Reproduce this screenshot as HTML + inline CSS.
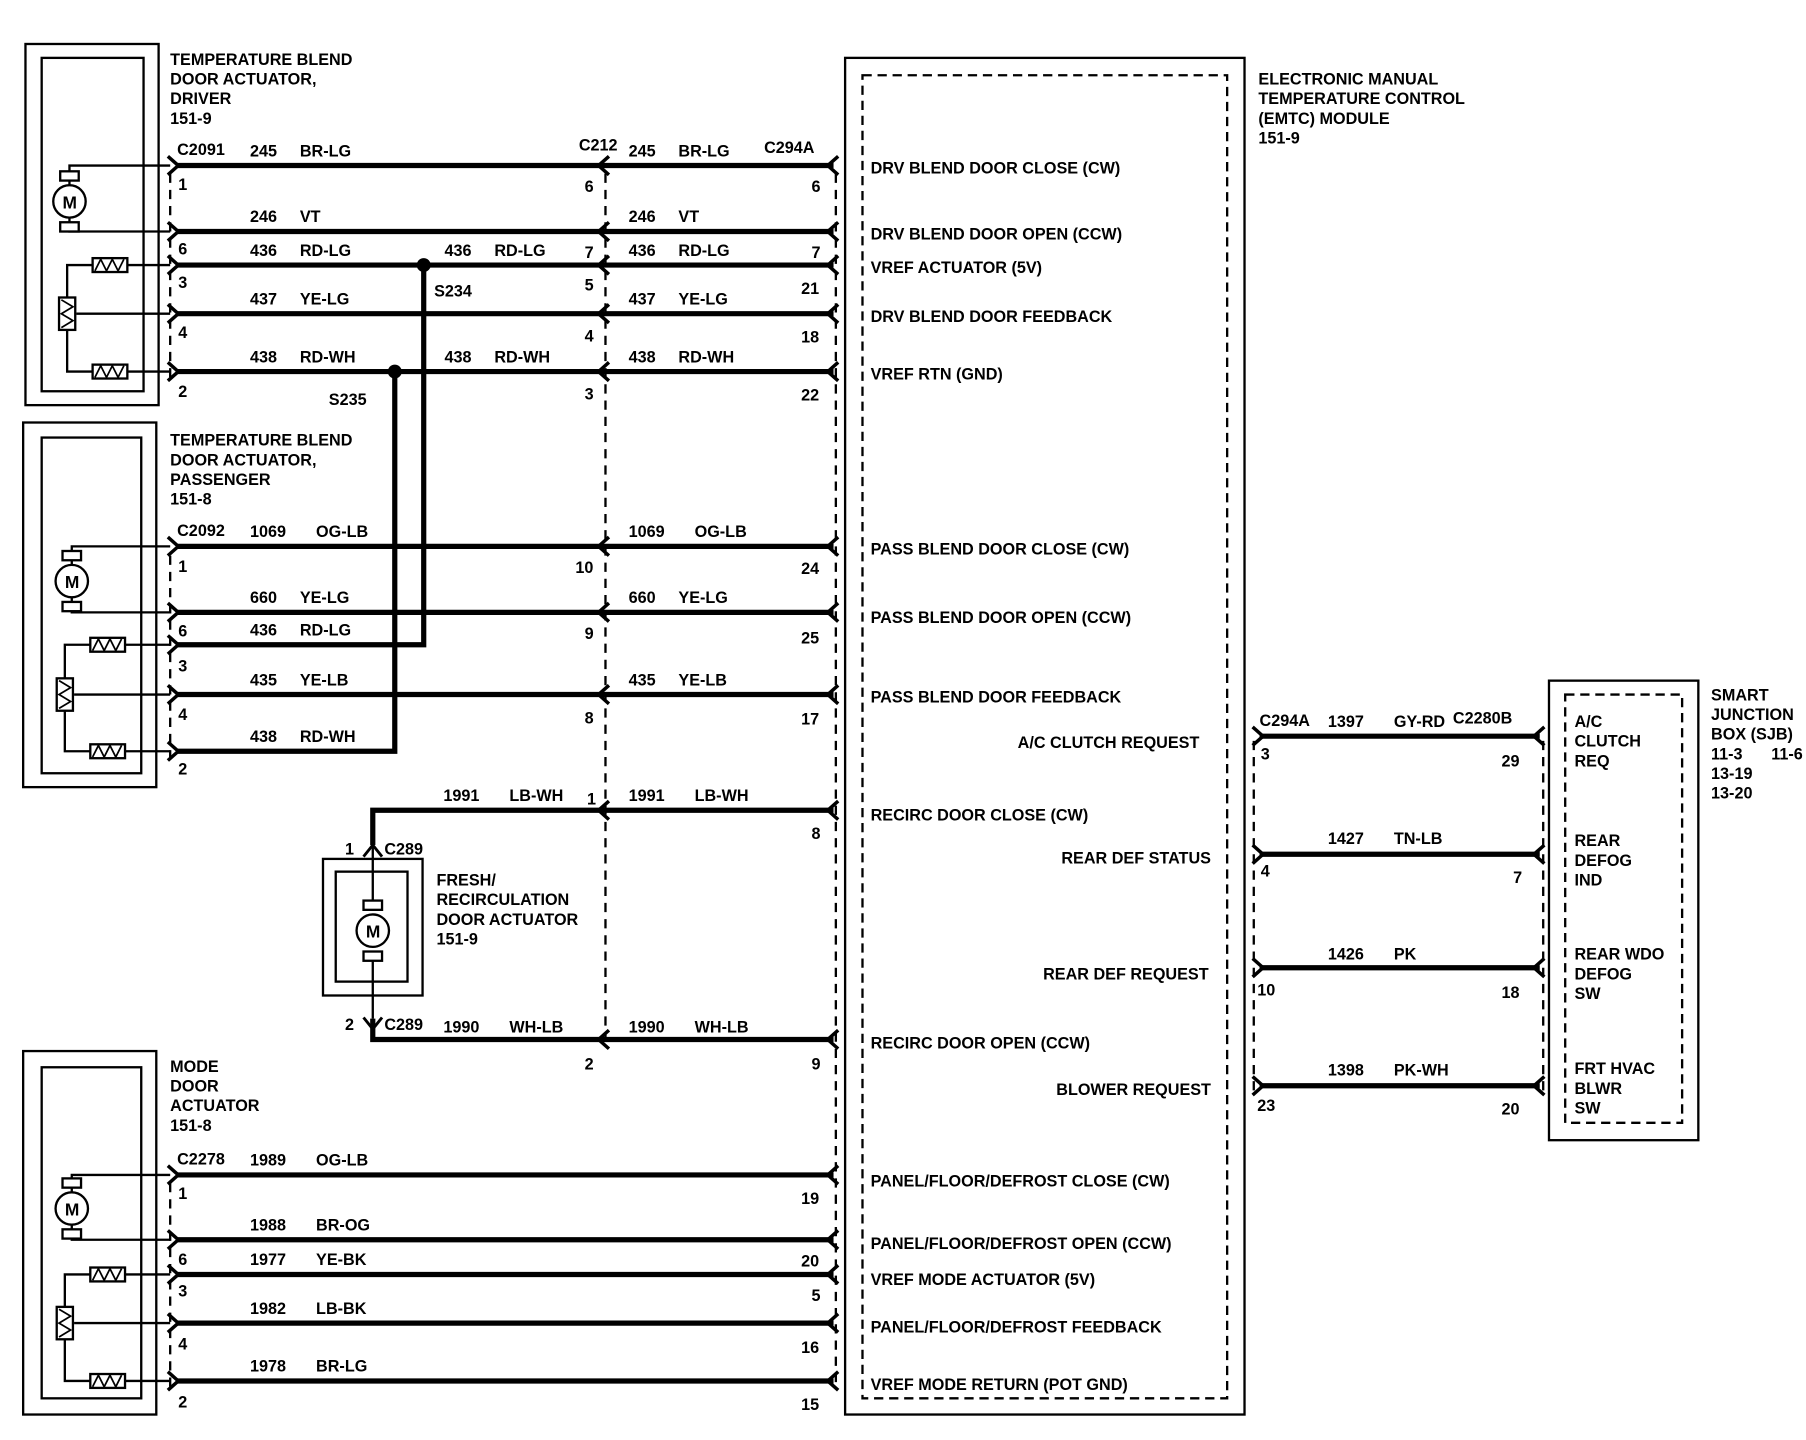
<!DOCTYPE html>
<html><head><meta charset="utf-8"><style>
html,body{margin:0;padding:0;background:#fff}
svg{display:block}
text{font-family:"Liberation Sans Narrow","Liberation Sans",sans-serif;font-size:14px;font-weight:bold;fill:#000}
</style></head><body>
<svg width="1806" height="1440" viewBox="0 0 1560 1244" preserveAspectRatio="none" xmlns="http://www.w3.org/2000/svg">
<defs>
<path id="R" d="M-8,-8 L1,0 L-8,8" fill="none" stroke="#000" stroke-width="3"/>
<path id="L" d="M8,-8 L-1,0 L8,8" fill="none" stroke="#000" stroke-width="3"/>
<g id="mot"><rect x="-8" y="-26" width="16" height="8" fill="#fff" stroke="#000" stroke-width="2"/><rect x="-8" y="18" width="16" height="8" fill="#fff" stroke="#000" stroke-width="2"/><circle r="14" fill="#fff" stroke="#000" stroke-width="2"/><text x="-6" y="6" style="font-size:15px">M</text></g>
<g id="res"><rect x="-15" y="-6" width="30" height="12" fill="#fff" stroke="#000" stroke-width="2"/><path d="M-13,5 L-8,-5 L-3,5 L2,-5 L7,5 L12,-5" fill="none" stroke="#000" stroke-width="1.5"/></g>
<g id="pot"><rect x="-7" y="-14" width="14" height="28" fill="#fff" stroke="#000" stroke-width="2"/><path d="M-5,-12 L5,-6 L-5,0 L5,6 L-5,12" fill="none" stroke="#000" stroke-width="1.5"/></g>
</defs>
<g fill="none" stroke="#000">
<rect x="22" y="38" width="115" height="312" stroke-width="2"/>
<rect x="36" y="50" width="88" height="288" stroke-width="2"/>
<rect x="20" y="365" width="115" height="315" stroke-width="2"/>
<rect x="36" y="378" width="86" height="290" stroke-width="2"/>
<rect x="20" y="908" width="115" height="314" stroke-width="2"/>
<rect x="36" y="922" width="86" height="286" stroke-width="2"/>
<rect x="279" y="742" width="86" height="118" stroke-width="2"/>
<rect x="290" y="753" width="62" height="95" stroke-width="2"/>
<rect x="730" y="50" width="345" height="1172" stroke-width="2"/>
<rect x="745" y="65" width="315" height="1143" stroke-width="2" stroke-dasharray="8,5"/>
<rect x="1338" y="588" width="129" height="397" stroke-width="2"/>
<rect x="1352" y="600" width="101" height="370" stroke-width="2" stroke-dasharray="8,5"/>
<g stroke-width="2" stroke-dasharray="8,6">
<line x1="147" y1="150" x2="147" y2="330"/><line x1="147" y1="480" x2="147" y2="660"/><line x1="147" y1="1022" x2="147" y2="1200"/>
<line x1="523" y1="150" x2="523" y2="900"/>
<line x1="722" y1="150" x2="722" y2="1200"/>
<line x1="1083" y1="640" x2="1083" y2="945"/>
<line x1="1333" y1="640" x2="1333" y2="945"/>
</g>
<g stroke-width="2">
<path d="M60,160 V143 H147 M60,188 V200 H147"/>
<path d="M58,270 V229 H80 M110,229 H147 M66,271 H147 M58,284 V321 H80 M110,321 H147"/>
<path d="M62,488 V472 H147 M62,516 V529 H147"/>
<path d="M56,598 V557 H78 M108,557 H147 M64,600 H147 M56,612 V649 H78 M108,649 H147"/>
<path d="M62,1030 V1015 H147 M62,1058 V1071 H147"/>
<path d="M56,1142 V1101 H78 M108,1101 H147 M64,1143 H147 M56,1156 V1193 H78 M108,1193 H147"/>
</g>
<g stroke-width="4.5">
<path d="M152,143 H720 M152,200 H720 M152,229 H720 M152,271 H720 M152,321 H720"/>
<path d="M152,472 H720 M152,529 H720 M152,557 H366 V229 M152,600 H720 M152,649 H341 V321"/>
<path d="M322,730 V700 H720 M322,880 V898 H720"/>
<path d="M152,1015 H720 M152,1071 H720 M152,1101 H720 M152,1143 H720 M152,1193 H720"/>
<path d="M1088,636 H1330 M1088,738 H1330 M1088,836 H1330 M1088,938 H1330"/>
</g>
<g stroke-width="2"><path d="M322,731 V780 M322,828 V880"/></g>
</g>
<circle cx="366" cy="229" r="6"/><circle cx="341" cy="321" r="6"/>
<use href="#mot" x="60" y="174"/><use href="#res" x="95" y="229"/><use href="#pot" x="58" y="271"/><use href="#res" x="95" y="321"/>
<use href="#mot" x="62" y="502"/><use href="#res" x="93" y="557"/><use href="#pot" x="56" y="600"/><use href="#res" x="93" y="649"/>
<use href="#mot" x="62" y="1044"/><use href="#res" x="93" y="1101"/><use href="#pot" x="56" y="1143"/><use href="#res" x="93" y="1193"/>
<use href="#mot" x="322" y="804"/>
<g>
<use href="#R" x="153" y="143"/><use href="#R" x="153" y="200"/><use href="#R" x="153" y="229"/><use href="#R" x="153" y="271"/><use href="#R" x="153" y="321"/>
<use href="#R" x="153" y="472"/><use href="#R" x="153" y="529"/><use href="#R" x="153" y="557"/><use href="#R" x="153" y="600"/><use href="#R" x="153" y="649"/>
<use href="#R" x="153" y="1015"/><use href="#R" x="153" y="1071"/><use href="#R" x="153" y="1101"/><use href="#R" x="153" y="1143"/><use href="#R" x="153" y="1193"/>
<use href="#L" x="518" y="143"/><use href="#L" x="518" y="200"/><use href="#L" x="518" y="229"/><use href="#L" x="518" y="271"/><use href="#L" x="518" y="321"/>
<use href="#L" x="518" y="472"/><use href="#L" x="518" y="529"/><use href="#L" x="518" y="600"/><use href="#L" x="518" y="700"/><use href="#L" x="518" y="898"/>
<use href="#L" x="716" y="143"/><use href="#L" x="716" y="200"/><use href="#L" x="716" y="229"/><use href="#L" x="716" y="271"/><use href="#L" x="716" y="321"/>
<use href="#L" x="716" y="472"/><use href="#L" x="716" y="529"/><use href="#L" x="716" y="600"/><use href="#L" x="716" y="700"/><use href="#L" x="716" y="898"/>
<use href="#L" x="716" y="1015"/><use href="#L" x="716" y="1071"/><use href="#L" x="716" y="1101"/><use href="#L" x="716" y="1143"/><use href="#L" x="716" y="1193"/>
<use href="#R" x="1090" y="636"/><use href="#R" x="1090" y="738"/><use href="#R" x="1090" y="836"/><use href="#R" x="1090" y="938"/>
<use href="#L" x="1326" y="636"/><use href="#L" x="1326" y="738"/><use href="#L" x="1326" y="836"/><use href="#L" x="1326" y="938"/>
<path d="M314,740 L322,730 L330,740 M314,879 L322,889 L330,879" fill="none" stroke="#000" stroke-width="2.5"/>
</g>
<text x="147" y="56">TEMPERATURE BLEND</text><text x="147" y="73">DOOR ACTUATOR,</text><text x="147" y="90">DRIVER</text><text x="147" y="107">151-9</text>
<text x="147" y="385">TEMPERATURE BLEND</text><text x="147" y="402">DOOR ACTUATOR,</text><text x="147" y="419">PASSENGER</text><text x="147" y="436">151-8</text>
<text x="147" y="926">MODE</text><text x="147" y="943">DOOR</text><text x="147" y="960">ACTUATOR</text><text x="147" y="977">151-8</text>
<text x="377" y="765">FRESH/</text><text x="377" y="782">RECIRCULATION</text><text x="377" y="799">DOOR ACTUATOR</text><text x="377" y="816">151-9</text>
<text x="1087" y="73">ELECTRONIC MANUAL</text><text x="1087" y="90">TEMPERATURE CONTROL</text><text x="1087" y="107">(EMTC) MODULE</text><text x="1087" y="124">151-9</text>
<text x="1478" y="605">SMART</text><text x="1478" y="622">JUNCTION</text><text x="1478" y="639">BOX (SJB)</text><text x="1478" y="656">11-3</text><text x="1530" y="656">11-6</text><text x="1478" y="673">13-19</text><text x="1478" y="690">13-20</text>
<text x="153" y="134">C2091</text><text x="500" y="130">C212</text><text x="660" y="132">C294A</text>
<text x="153" y="463">C2092</text><text x="153" y="1006">C2278</text>
<text x="332" y="738">C289</text><text x="332" y="890">C289</text><text x="298" y="738">1</text><text x="298" y="890">2</text>
<text x="375" y="256">S234</text><text x="284" y="350">S235</text>
<text x="1088" y="627">C294A</text><text x="1255" y="625">C2280B</text>
<g>
<text x="216" y="135">245</text><text x="259" y="135">BR-LG</text><text x="543" y="135">245</text><text x="586" y="135">BR-LG</text>
<text x="216" y="192">246</text><text x="259" y="192">VT</text><text x="543" y="192">246</text><text x="586" y="192">VT</text>
<text x="216" y="221">436</text><text x="259" y="221">RD-LG</text><text x="384" y="221">436</text><text x="427" y="221">RD-LG</text><text x="543" y="221">436</text><text x="586" y="221">RD-LG</text>
<text x="216" y="263">437</text><text x="259" y="263">YE-LG</text><text x="543" y="263">437</text><text x="586" y="263">YE-LG</text>
<text x="216" y="313">438</text><text x="259" y="313">RD-WH</text><text x="384" y="313">438</text><text x="427" y="313">RD-WH</text><text x="543" y="313">438</text><text x="586" y="313">RD-WH</text>
<text x="216" y="464">1069</text><text x="273" y="464">OG-LB</text><text x="543" y="464">1069</text><text x="600" y="464">OG-LB</text>
<text x="216" y="521">660</text><text x="259" y="521">YE-LG</text><text x="543" y="521">660</text><text x="586" y="521">YE-LG</text>
<text x="216" y="549">436</text><text x="259" y="549">RD-LG</text>
<text x="216" y="592">435</text><text x="259" y="592">YE-LB</text><text x="543" y="592">435</text><text x="586" y="592">YE-LB</text>
<text x="216" y="641">438</text><text x="259" y="641">RD-WH</text>
<text x="383" y="692">1991</text><text x="440" y="692">LB-WH</text><text x="543" y="692">1991</text><text x="600" y="692">LB-WH</text>
<text x="383" y="892">1990</text><text x="440" y="892">WH-LB</text><text x="543" y="892">1990</text><text x="600" y="892">WH-LB</text>
<text x="216" y="1007">1989</text><text x="273" y="1007">OG-LB</text>
<text x="216" y="1063">1988</text><text x="273" y="1063">BR-OG</text>
<text x="216" y="1093">1977</text><text x="273" y="1093">YE-BK</text>
<text x="216" y="1135">1982</text><text x="273" y="1135">LB-BK</text>
<text x="216" y="1185">1978</text><text x="273" y="1185">BR-LG</text>
<text x="1147" y="628">1397</text><text x="1204" y="628">GY-RD</text>
<text x="1147" y="729">1427</text><text x="1204" y="729">TN-LB</text>
<text x="1147" y="829">1426</text><text x="1204" y="829">PK</text>
<text x="1147" y="929">1398</text><text x="1204" y="929">PK-WH</text>
</g>
<g>
<text x="154" y="164">1</text><text x="154" y="220">6</text><text x="154" y="249">3</text><text x="154" y="292">4</text><text x="154" y="343">2</text>
<text x="154" y="494">1</text><text x="154" y="550">6</text><text x="154" y="580">3</text><text x="154" y="622">4</text><text x="154" y="669">2</text>
<text x="154" y="1036">1</text><text x="154" y="1093">6</text><text x="154" y="1120">3</text><text x="154" y="1166">4</text><text x="154" y="1216">2</text>
<text x="505" y="166">6</text><text x="505" y="223">7</text><text x="505" y="251">5</text><text x="505" y="295">4</text><text x="505" y="345">3</text>
<text x="497" y="495">10</text><text x="505" y="552">9</text><text x="505" y="625">8</text><text x="507" y="695">1</text><text x="505" y="924">2</text>
<text x="701" y="166">6</text><text x="701" y="223">7</text><text x="692" y="254">21</text><text x="692" y="296">18</text><text x="692" y="346">22</text>
<text x="692" y="496">24</text><text x="692" y="556">25</text><text x="692" y="626">17</text><text x="701" y="725">8</text><text x="701" y="924">9</text>
<text x="692" y="1040">19</text><text x="692" y="1094">20</text><text x="701" y="1124">5</text><text x="692" y="1169">16</text><text x="692" y="1218">15</text>
<text x="1089" y="656">3</text><text x="1089" y="757">4</text><text x="1086" y="860">10</text><text x="1086" y="960">23</text>
<text x="1297" y="662">29</text><text x="1307" y="763">7</text><text x="1297" y="862">18</text><text x="1297" y="963">20</text>
</g>
<g>
<text x="752" y="150">DRV BLEND DOOR CLOSE (CW)</text><text x="752" y="207">DRV BLEND DOOR OPEN (CCW)</text><text x="752" y="236">VREF ACTUATOR (5V)</text><text x="752" y="278">DRV BLEND DOOR FEEDBACK</text><text x="752" y="328">VREF RTN (GND)</text>
<text x="752" y="479">PASS BLEND DOOR CLOSE (CW)</text><text x="752" y="538">PASS BLEND DOOR OPEN (CCW)</text><text x="752" y="607">PASS BLEND DOOR FEEDBACK</text>
<text x="752" y="709">RECIRC DOOR CLOSE (CW)</text><text x="752" y="906">RECIRC DOOR OPEN (CCW)</text>
<text x="752" y="1025">PANEL/FLOOR/DEFROST CLOSE (CW)</text><text x="752" y="1079">PANEL/FLOOR/DEFROST OPEN (CCW)</text><text x="752" y="1110">VREF MODE ACTUATOR (5V)</text><text x="752" y="1151">PANEL/FLOOR/DEFROST FEEDBACK</text><text x="752" y="1201">VREF MODE RETURN (POT GND)</text>
<text x="1036" y="646" text-anchor="end">A/C CLUTCH REQUEST</text><text x="1046" y="746" text-anchor="end">REAR DEF STATUS</text><text x="1044" y="846" text-anchor="end">REAR DEF REQUEST</text><text x="1046" y="946" text-anchor="end">BLOWER REQUEST</text>
<text x="1360" y="628">A/C</text><text x="1360" y="645">CLUTCH</text><text x="1360" y="662">REQ</text>
<text x="1360" y="731">REAR</text><text x="1360" y="748">DEFOG</text><text x="1360" y="765">IND</text>
<text x="1360" y="829">REAR WDO</text><text x="1360" y="846">DEFOG</text><text x="1360" y="863">SW</text>
<text x="1360" y="928">FRT HVAC</text><text x="1360" y="945">BLWR</text><text x="1360" y="962">SW</text>
</g>
</svg>
</body></html>
